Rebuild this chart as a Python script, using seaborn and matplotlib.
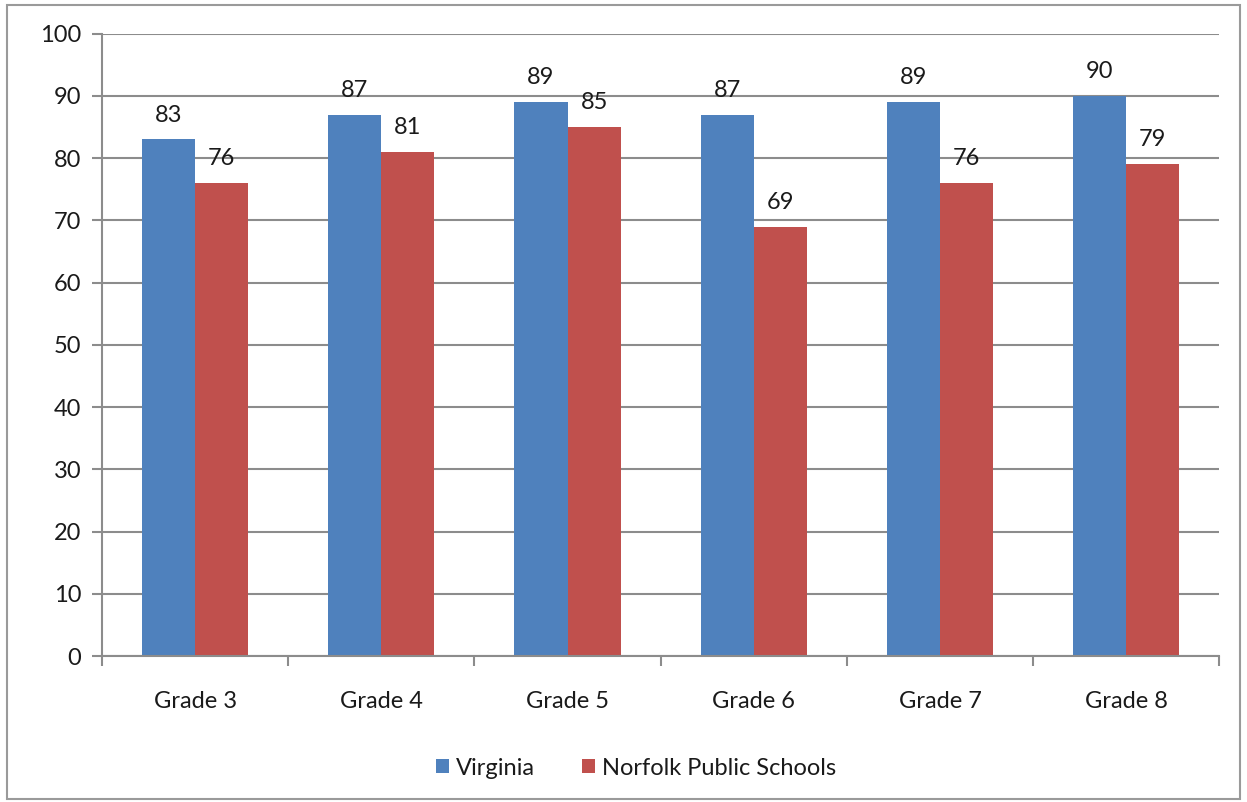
import pandas as pd
import matplotlib.pyplot as plt
import seaborn as sns
from matplotlib.patches import Rectangle
from matplotlib.ticker import FixedLocator

# Chart data
grades = ['Grade 3', 'Grade 4', 'Grade 5', 'Grade 6', 'Grade 7', 'Grade 8']
virginia = [83, 87, 89, 87, 89, 90]
norfolk = [76, 81, 85, 69, 76, 79]
series_names = ['Virginia', 'Norfolk Public Schools']

df = pd.DataFrame({
    'grade': grades * 2,
    'score': virginia + norfolk,
    'series': [series_names[0]] * len(grades) + [series_names[1]] * len(grades),
})

sns.set_style("white")
plt.rcParams['font.family'] = ['Lato', 'DejaVu Sans']
FS = 17
TXT = '#1a1a1a'

fig = plt.figure(figsize=(12.47, 8.02), dpi=100)
ax = fig.add_axes([0.0818, 0.182, 0.896, 0.776])

sns.barplot(data=df, x='grade', y='score', hue='series',
            palette=['#4F81BD', '#C0504D'], width=0.57, gap=0,
            saturation=1, linewidth=0, edgecolor='none', ax=ax, legend=True)

for cont in ax.containers:
    ax.bar_label(cont, padding=10, fontsize=FS, color=TXT)

ax.set_ylim(0, 100)
ax.set_xlim(-0.5, 5.5)
ax.set_yticks(range(0, 101, 10))
ax.yaxis.grid(True, color='#8c8c8c', linewidth=1.5)
ax.set_axisbelow(True)
ax.set_xlabel('')
ax.set_ylabel('')

for side in ['top', 'right']:
    ax.spines[side].set_visible(False)
for side in ['left', 'bottom']:
    ax.spines[side].set_color('#8c8c8c')
    ax.spines[side].set_linewidth(1.5)

ax.tick_params(axis='y', which='major', left=True, length=7, width=1.5,
               color='#8c8c8c', labelsize=FS, labelcolor=TXT, pad=8)
ax.tick_params(axis='x', which='major', bottom=False, labelsize=FS,
               labelcolor=TXT, pad=22)
ax.xaxis.set_minor_locator(FixedLocator([i - 0.5 for i in range(len(grades) + 1)]))
ax.tick_params(axis='x', which='minor', bottom=True, length=7, width=1.5,
               color='#8c8c8c')

leg = ax.legend(loc='center', bbox_to_anchor=(0.478, -0.18), ncol=2, frameon=False,
                fontsize=FS, handlelength=0.55, handleheight=0.55,
                columnspacing=2.0, handletextpad=0.3)
for t in leg.get_texts():
    t.set_color(TXT)

# Outer frame of the chart area
fig.patches.append(Rectangle((0.006, 0.004), 0.988, 0.99, transform=fig.transFigure,
                             fill=False, edgecolor='#9a9a9a', linewidth=1.5))

plt.savefig('out.png', dpi=100)
